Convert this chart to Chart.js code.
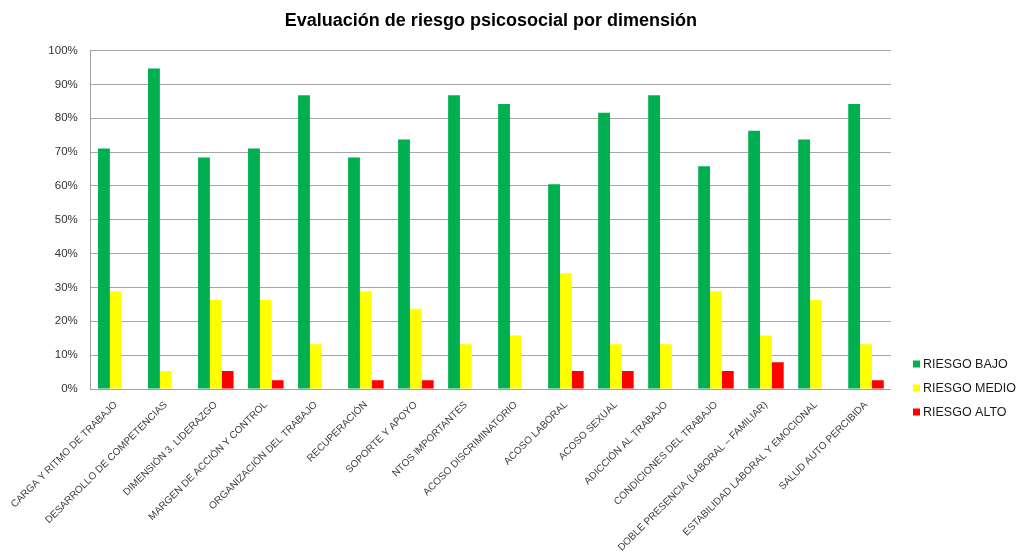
<!DOCTYPE html>
<html>
<head>
<meta charset="utf-8">
<script src="https://cdn.jsdelivr.net/npm/chart.js@4"></script>
<style>
  html, body { margin: 0; padding: 0; background: #fff; }
  #wrap { width: 1020px; height: 556px; position: relative; }
</style>
</head>
<body>
<div id="wrap"><canvas id="riesgoChart"></canvas></div>
<script>
const dimensiones = [
    'CARGA Y RITMO DE TRABAJO',
    'DESARROLLO DE COMPETENCIAS',
    'DIMENSIÓN 3. LIDERAZGO',
    'MARGEN DE ACCIÓN Y CONTROL',
    'ORGANIZACIÓN DEL TRABAJO',
    'RECUPERACIÓN',
    'SOPORTE Y APOYO',
    'NTOS IMPORTANTES',
    'ACOSO DISCRIMINATORIO',
    'ACOSO LABORAL',
    'ACOSO SEXUAL',
    'ADICCIÓN AL TRABAJO',
    'CONDICIONES DEL TRABAJO',
    'DOBLE PRESENCIA (LABORAL – FAMILIAR)',
    'ESTABILIDAD LABORAL Y EMOCIONAL',
    'SALUD AUTO PERCIBIDA'
];

const riesgoBajo  = [71.1, 94.7, 68.4, 71.1, 86.8, 68.4, 73.7, 86.8, 84.2, 60.5, 81.6, 86.8, 65.8, 76.3, 73.7, 84.2];
const riesgoMedio = [28.9, 5.3, 26.3, 26.3, 13.2, 28.9, 23.7, 13.2, 15.8, 34.2, 13.2, 13.2, 28.9, 15.8, 26.3, 13.2];
const riesgoAlto  = [0, 0, 5.3, 2.6, 0, 2.6, 2.6, 0, 0, 5.3, 5.3, 0, 5.3, 7.9, 0, 2.6];

const yTicks = [0, 10, 20, 30, 40, 50, 60, 70, 80, 90, 100];

const fontFamily = "'Liberation Sans', Arial, sans-serif";

// legend drawn by hand so it sits next to the bottom of the plot, like the original
const sideLegend = {
    id: 'sideLegend',
    afterDraw(chart) {
        const ctx = chart.ctx;
        const area = chart.chartArea;
        ctx.save();
        ctx.font = '12.5px ' + fontFamily;
        ctx.textBaseline = 'middle';
        chart.data.datasets.forEach((ds, i) => {
            const x = area.right + 22;
            const y = area.bottom - 25 + i * 24;
            ctx.fillStyle = ds.backgroundColor;
            ctx.fillRect(x, y - 3.5, 7, 7);
            ctx.fillStyle = '#1a1a1a';
            ctx.fillText(ds.label, x + 10, y + 0.5);
        });
        ctx.restore();
    }
};

const ctx = document.getElementById('riesgoChart').getContext('2d');
new Chart(ctx, {
    type: 'bar',
    data: {
        labels: dimensiones,
        datasets: [
            { label: 'RIESGO BAJO', data: riesgoBajo, backgroundColor: '#00B050' },
            { label: 'RIESGO MEDIO', data: riesgoMedio, backgroundColor: '#FFFF00' },
            { label: 'RIESGO ALTO', data: riesgoAlto, backgroundColor: '#FF0000' }
        ]
    },
    options: {
        responsive: true,
        maintainAspectRatio: false,
        animation: false,
        categoryPercentage: 0.71,
        barPercentage: 1.0,
        layout: { padding: { top: 0, right: 129, bottom: 0, left: 0 } },
        plugins: {
            legend: { display: false },
            tooltip: { enabled: false },
            title: {
                display: true,
                fullSize: false,
                text: 'Evaluación de riesgo psicosocial por dimensión',
                color: '#000',
                font: { family: fontFamily, size: 18, weight: 'bold' },
                padding: { top: 10, bottom: 19 }
            }
        },
        scales: {
            x: {
                grid: { display: false, drawTicks: false },
                border: { color: '#a0a0a0', width: 1 },
                ticks: {
                    autoSkip: false,
                    minRotation: 45,
                    maxRotation: 45,
                    padding: 10,
                    color: '#404040',
                    font: { family: fontFamily, size: 10 }
                },
                afterFit(scale) { scale.height = 167; }
            },
            y: {
                min: 0,
                max: 100,
                afterBuildTicks(scale) {
                    scale.ticks = yTicks.map(v => ({ value: v }));
                },
                grid: { color: '#a6a6a6', lineWidth: 1, drawTicks: false },
                border: { color: '#a0a0a0', width: 1 },
                ticks: {
                    padding: 13,
                    color: '#333333',
                    font: { family: fontFamily, size: 11.5 },
                    callback: v => v + '%'
                },
                afterFit(scale) { scale.width = 88; }
            }
        }
    },
    plugins: [sideLegend]
});
</script>
</body>
</html>
